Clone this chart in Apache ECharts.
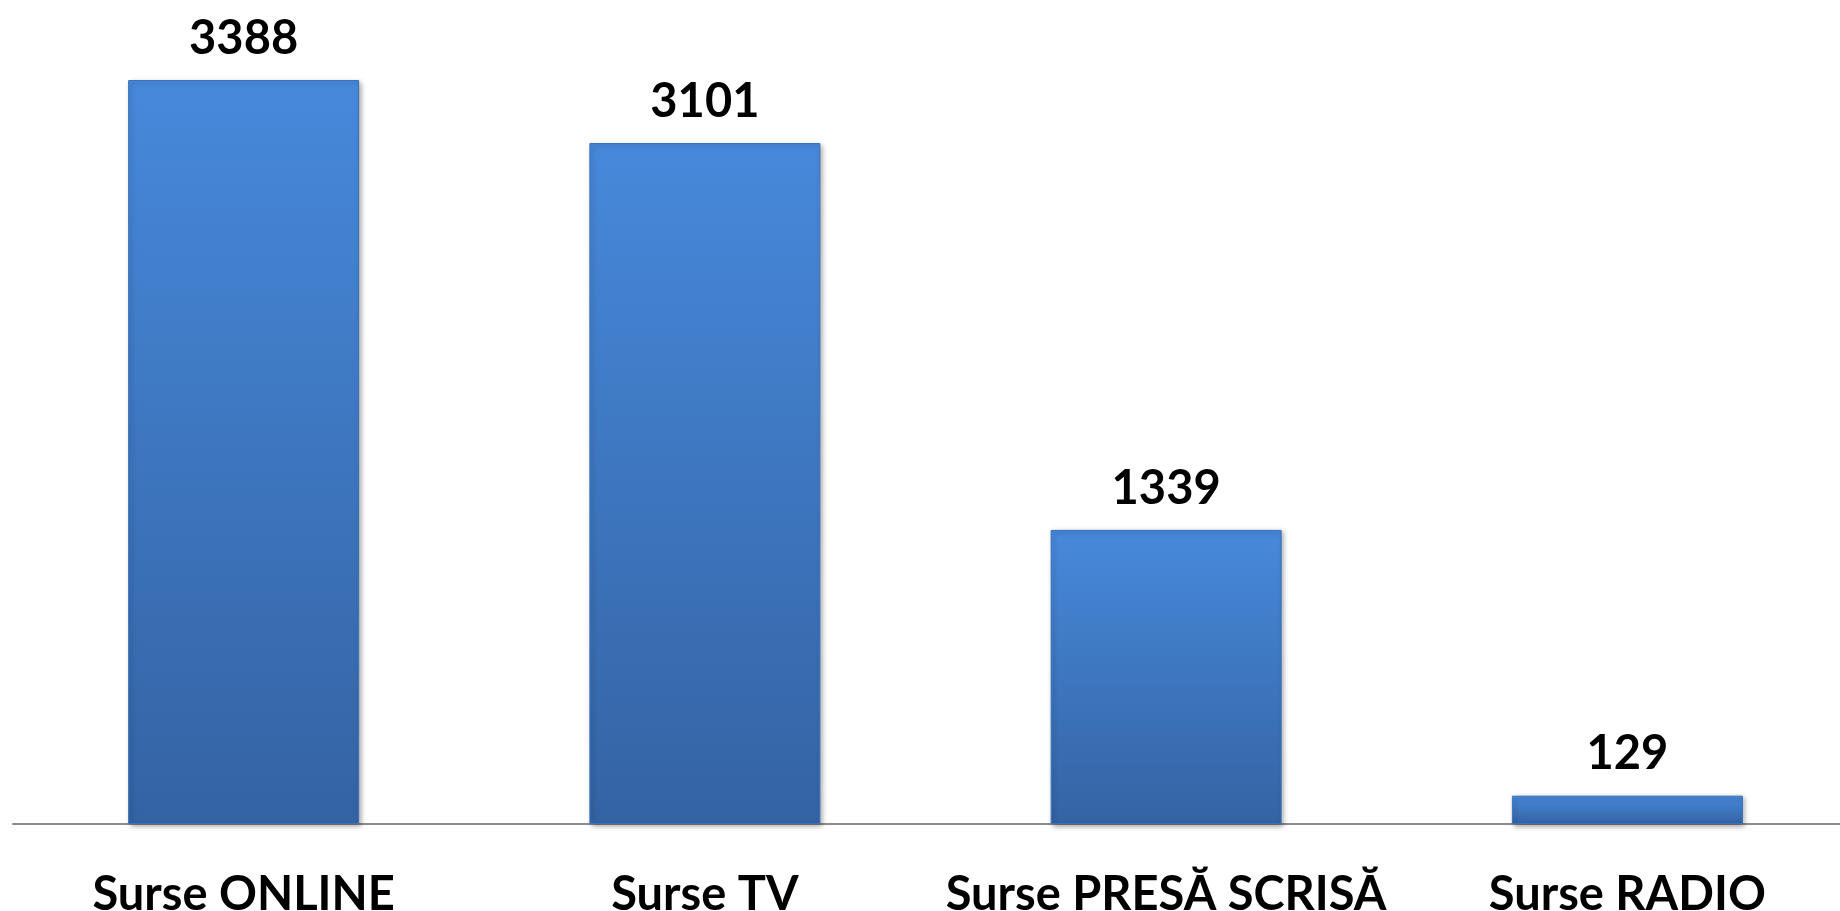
<!DOCTYPE html>
<html>
<head>
<meta charset="utf-8">
<script src="https://cdn.jsdelivr.net/npm/echarts@6/dist/echarts.min.js"></script>
<style>
  html, body { margin: 0; padding: 0; background: #fff; }
  #chart { width: 1840px; height: 911px; }
</style>
</head>
<body>
<div id="chart"></div>
<script>
// categorii si valori
const categories = ['Surse ONLINE', 'Surse TV', 'Surse PRESĂ SCRISĂ', 'Surse RADIO'];
const values = [3388, 3101, 1339, 129];

const chart = echarts.init(document.getElementById('chart'));
chart.setOption({
  backgroundColor: '#fff',
  animation: false,
  grid: {
    left: 13,
    width: 1845,
    top: 80,
    bottom: 87,
    outerBoundsMode: 'none',
    containLabel: false,
  },
  xAxis: {
    type: 'category',
    data: categories,
    axisLine: { lineStyle: { color: '#8c8c8c', width: 2 } },
    axisTick: { show: false },
    axisLabel: {
      interval: 0,
      margin: 47,
      color: '#000',
      fontFamily: 'Lato',
      fontWeight: 'bold',
      fontSize: 47,
    },
  },
  yAxis: {
    type: 'value',
    min: 0,
    max: 3388,
    show: false,
    splitLine: { show: false },
  },
  series: [{
    type: 'bar',
    data: values,
    barWidth: 231,
    itemStyle: {
      color: new echarts.graphic.LinearGradient(0, 0, 0, 1, [
        { offset: 0, color: '#4789db' },
        { offset: 1, color: '#3463a3' },
      ]),
      borderColor: '#3a72bd',
      borderWidth: 1,
      shadowColor: 'rgba(0,0,0,0.35)',
      shadowBlur: 5,
      shadowOffsetX: 2,
      shadowOffsetY: 2,
    },
    label: {
      show: true,
      position: 'top',
      distance: 18,
      color: '#000',
      fontFamily: 'Lato',
      fontWeight: 'bold',
      fontSize: 47,
    },
  }],
});
</script>
</body>
</html>
